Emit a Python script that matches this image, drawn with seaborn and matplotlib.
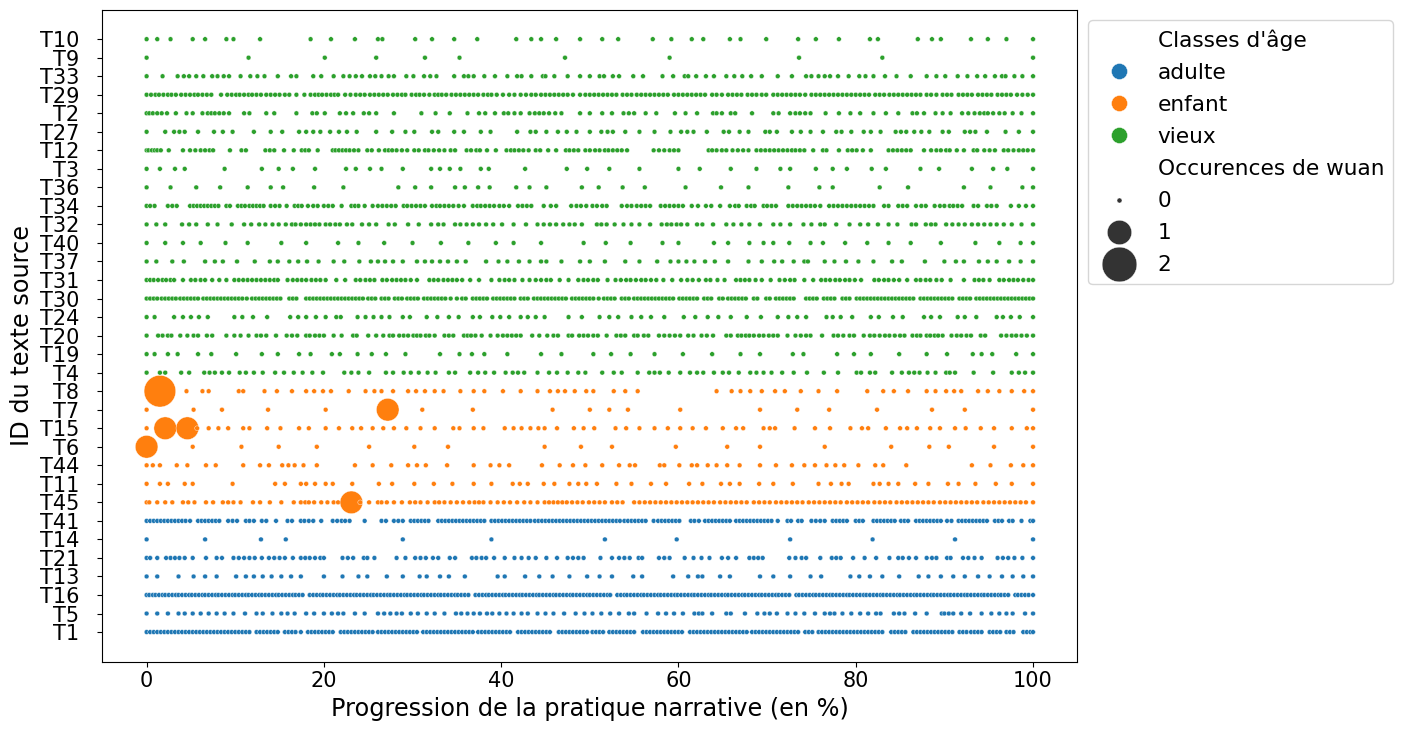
# imports
import pandas as pd
import seaborn as sns
import matplotlib.pyplot as plt
from matplotlib.lines import Line2D
from matplotlib.collections import PathCollection

# Positions (in % of the narrative) of each segment, read row by row.
# Rows listed from the bottom of the chart to the top.
t1 = [0, 0.4, 0.8, 1.2, 1.6, 2.0, 2.4, 2.8, 3.2, 3.6, 4.0, 4.4, 4.8, 5.2, 5.6, 6.0, 6.4, 6.8, 7.2, 7.6, 8.0, 8.4, 8.8, 9.2, 9.6, 10.0, 10.4, 10.8, 11.2, 11.6, 12.4, 12.8, 13.2, 13.6, 14.0, 14.4, 14.8, 15.6, 16.0, 16.4, 16.8, 17.4, 18.2, 18.6, 19.0, 19.4, 19.8, 20.2, 20.6, 21.0, 21.9, 22.3, 22.7, 23.1, 23.5, 23.9, 24.3, 24.7, 25.1, 25.5, 26.1, 26.5, 26.9, 27.3, 27.7, 28.1, 28.5, 28.9, 29.3, 29.7, 30.1, 30.5, 31.2, 31.6, 32.0, 32.4, 32.8, 33.2, 33.6, 34.0, 34.4, 34.8, 35.2, 35.6, 36.0, 36.4, 36.8, 37.4, 37.8, 38.2, 38.6, 39.0, 39.4, 39.8, 40.2, 40.6, 41.0, 41.9, 42.3, 42.7, 43.1, 43.5, 43.9, 44.3, 44.7, 45.1, 45.5, 46.5, 46.9, 47.3, 47.7, 48.1, 48.5, 48.9, 49.3, 49.7, 50.3, 50.7, 51.1, 51.5, 52.2, 52.6, 53.0, 53.4, 53.8, 54.2, 54.6, 55.0, 56.0, 56.4, 56.8, 57.2, 57.6, 58.0, 58.4, 58.8, 59.2, 59.6, 60.0, 60.4, 61.3, 61.7, 62.1, 62.5, 62.9, 63.3, 63.7, 64.1, 64.5, 64.9, 65.3, 65.7, 66.1, 66.5, 66.9, 67.3, 67.7, 68.3, 68.7, 69.1, 69.5, 69.9, 70.3, 70.7, 71.1, 71.5, 71.9, 72.3, 72.7, 73.1, 73.5, 74.3, 74.7, 75.1, 75.8, 76.2, 76.6, 77.0, 77.4, 77.8, 78.2, 78.6, 79.0, 79.4, 79.8, 80.2, 80.6, 81.0, 81.4, 81.8, 82.2, 82.6, 83.0, 84.0, 84.4, 84.8, 85.2, 85.6, 86.5, 86.9, 87.3, 87.7, 88.1, 88.5, 88.9, 89.3, 89.7, 90.1, 90.5, 90.9, 91.7, 92.1, 92.5, 93.0, 93.4, 93.8, 94.2, 95.1, 95.5, 95.9, 96.3, 97.0, 97.4, 97.8, 98.9, 99.3, 99.7, 100]
t5 = [0, 1.2, 2.4, 3.6, 4.3, 5.2, 6.1, 7.0, 7.9, 8.8, 9.8, 11.1, 12.4, 13.1, 14.2, 15.2, 15.9, 16.7, 18.0, 18.9, 20.0, 20.9, 21.6, 22.2, 23.5, 24.6, 26.1, 26.8, 27.5, 28.2, 28.8, 29.8, 30.6, 31.6, 32.5, 33.6, 34.9, 35.5, 36.2, 36.9, 37.6, 38.4, 39.0, 39.8, 40.6, 41.4, 42.3, 43.0, 44.1, 45.0, 45.9, 47.1, 48.4, 49.4, 50.3, 51.3, 52.3, 53.3, 54.4, 55.0, 56.4, 57.7, 58.6, 59.5, 60.5, 61.8, 62.3, 62.7, 63.8, 65.4, 65.9, 67.5, 68.9, 69.7, 70.3, 71.1, 72.3, 73.2, 74.2, 75.4, 76.5, 77.1, 77.6, 78.5, 79.5, 80.5, 81.4, 82.3, 82.8, 84.3, 84.9, 85.5, 86.7, 88.0, 89.7, 90.0, 90.5, 91.0, 91.9, 92.9, 94.2, 95.3, 96.2, 97.0, 97.7, 99.1, 100]
t16 = [0, 0.3, 0.7, 1.0, 1.4, 1.8, 2.1, 2.5, 2.9, 3.3, 3.6, 4.0, 4.4, 4.8, 5.1, 5.5, 5.9, 6.3, 6.6, 7.0, 7.4, 7.8, 8.1, 8.5, 8.9, 9.3, 9.7, 10.0, 10.4, 10.8, 11.2, 11.5, 11.9, 12.3, 12.7, 13.0, 13.4, 13.8, 14.2, 14.6, 14.9, 15.3, 15.7, 16.1, 16.5, 16.8, 17.2, 17.6, 18.4, 18.8, 19.2, 19.6, 19.9, 20.3, 20.7, 21.1, 21.5, 21.8, 22.2, 22.6, 23.0, 23.4, 23.7, 24.1, 24.5, 24.9, 25.3, 25.6, 26.0, 26.4, 26.8, 27.2, 27.5, 27.9, 28.3, 28.7, 29.1, 29.4, 29.8, 30.2, 30.6, 31.0, 31.3, 31.7, 32.1, 32.5, 32.9, 33.2, 33.6, 34.0, 34.4, 34.8, 35.1, 35.5, 35.9, 36.3, 37.1, 37.5, 37.9, 38.3, 38.6, 39.0, 39.4, 39.8, 40.2, 40.5, 40.9, 41.3, 41.7, 42.1, 42.4, 42.8, 43.2, 43.6, 44.0, 44.3, 44.7, 45.1, 45.5, 45.9, 46.2, 46.6, 47.0, 47.4, 47.8, 48.1, 48.5, 48.9, 49.3, 49.7, 50.0, 50.4, 50.8, 51.2, 51.6, 52.0, 52.3, 53.1, 53.5, 53.9, 54.2, 54.6, 55.0, 55.4, 55.8, 56.1, 56.5, 56.9, 57.3, 57.7, 58.0, 58.4, 58.8, 59.2, 59.6, 59.9, 60.3, 60.7, 61.1, 61.5, 61.8, 62.2, 62.6, 63.0, 63.4, 63.7, 64.1, 64.5, 64.9, 65.3, 65.6, 66.0, 66.4, 66.8, 67.2, 67.5, 67.9, 68.3, 68.7, 69.1, 69.4, 69.8, 70.2, 70.6, 71.0, 71.3, 71.7, 72.1, 72.5, 73.3, 73.6, 74.0, 74.4, 74.8, 75.2, 75.5, 75.9, 76.3, 76.7, 77.1, 77.4, 77.8, 78.2, 78.6, 79.0, 79.3, 79.7, 80.1, 80.5, 80.9, 81.2, 81.6, 82.0, 82.4, 82.8, 83.1, 83.5, 83.9, 84.3, 84.7, 85.0, 85.4, 85.8, 86.2, 86.6, 86.9, 87.3, 87.7, 88.1, 88.5, 88.8, 89.2, 89.6, 90.0, 90.4, 90.7, 91.1, 91.5, 91.9, 92.3, 92.6, 93.0, 93.4, 93.8, 94.2, 94.5, 94.9, 95.3, 95.7, 96.1, 96.4, 96.8, 97.2, 98.0, 98.3, 98.7, 99.1, 99.5, 100]
t13 = [0, 1.2, 3.6, 5.3, 6.6, 7.9, 10.1, 11.2, 12.1, 13.1, 14.1, 15.2, 16.3, 17.4, 20.0, 22.1, 23.9, 24.9, 27.1, 28.9, 30.8, 31.6, 33.1, 34.1, 35.9, 39.6, 40.4, 42.7, 44.3, 45.8, 47.7, 49.7, 51.1, 52.5, 54.9, 55.9, 59.4, 61.1, 62.2, 62.7, 64.7, 65.8, 69.2, 70.7, 72.6, 74.9, 76.1, 79.4, 80.4, 81.6, 83.0, 84.9, 87.1, 88.2, 89.6, 91.0, 92.3, 93.8, 95.1, 96.5, 97.7, 98.9, 100]
t21 = [0, 0.4, 1.2, 2.2, 2.7, 3.2, 3.7, 4.3, 5.2, 6.7, 7.9, 8.5, 9.8, 10.4, 11.0, 11.6, 12.2, 13.0, 13.8, 14.4, 15.0, 15.6, 16.5, 17.4, 17.9, 18.4, 19.0, 19.6, 20.0, 22.1, 22.7, 23.3, 24.5, 24.9, 25.7, 28.2, 29.2, 30.3, 30.9, 31.5, 32.3, 32.9, 34.2, 34.8, 36.7, 37.2, 37.8, 38.3, 39.2, 40.4, 41.5, 42.3, 43.1, 43.9, 45.1, 46.3, 47.5, 48.1, 48.7, 49.3, 51.2, 52.5, 53.3, 53.9, 54.5, 55.5, 55.9, 57.8, 58.4, 59.0, 60.7, 61.7, 62.6, 63.5, 64.9, 65.6, 66.5, 68.0, 68.5, 69.0, 69.5, 72.5, 73.2, 73.9, 74.4, 76.0, 77.3, 77.8, 78.3, 79.7, 81.0, 82.3, 83.8, 84.8, 85.3, 86.0, 86.8, 88.0, 88.6, 89.1, 90.3, 90.7, 92.1, 92.7, 93.4, 94.2, 96.0, 96.6, 97.2, 97.9, 98.8, 100]
t14 = [0, 6.6, 12.9, 15.7, 28.9, 38.9, 51.7, 59.8, 72.6, 81.9, 91.2, 100]
t41 = [0, 0.4, 0.8, 1.2, 1.6, 2.0, 2.4, 2.8, 3.2, 3.6, 4.0, 4.4, 4.9, 5.8, 6.2, 6.6, 7.0, 7.4, 7.8, 8.2, 9.2, 9.7, 10.2, 11.2, 11.6, 12.1, 13.0, 13.5, 14.6, 15.9, 16.4, 17.4, 17.8, 18.3, 18.8, 19.7, 21.0, 21.5, 22.0, 22.4, 22.9, 24.6, 26.5, 27.0, 27.9, 28.4, 28.9, 29.8, 30.2, 30.6, 31.0, 31.4, 31.8, 32.9, 33.3, 33.7, 34.1, 34.5, 34.9, 35.3, 35.7, 36.1, 36.5, 36.9, 37.3, 37.7, 38.1, 38.9, 39.3, 39.7, 40.1, 40.5, 40.9, 41.3, 41.7, 42.1, 42.5, 42.9, 43.3, 43.8, 44.2, 44.6, 45.0, 45.4, 45.8, 46.2, 46.6, 47.0, 47.4, 47.8, 48.2, 48.6, 49.0, 49.4, 49.8, 50.2, 50.6, 51.0, 51.4, 51.8, 52.2, 52.6, 53.0, 53.4, 53.9, 54.3, 54.7, 55.1, 55.5, 55.9, 56.3, 57.2, 57.7, 58.1, 58.5, 58.9, 59.3, 59.7, 60.1, 61.4, 61.8, 62.3, 63.0, 63.4, 63.8, 64.2, 64.6, 65.0, 65.4, 65.8, 66.5, 66.9, 67.3, 67.7, 68.1, 68.5, 68.9, 69.3, 69.7, 70.1, 70.5, 71.2, 72.3, 72.7, 73.5, 73.9, 75.0, 75.5, 76.0, 76.5, 77.4, 77.8, 78.2, 78.6, 79.0, 80.0, 80.4, 80.8, 82.0, 82.4, 82.8, 83.2, 83.6, 84.0, 84.4, 85.1, 85.5, 85.9, 86.8, 87.2, 87.6, 88.0, 88.4, 88.8, 89.2, 89.6, 90.3, 90.8, 91.6, 92.0, 92.4, 92.8, 93.2, 93.6, 94.0, 94.4, 94.8, 95.7, 96.1, 96.5, 97.3, 97.7, 98.7, 99.7, 100]
t45 = [0, 0.3, 1.2, 2.1, 2.9, 4.1, 4.7, 5.4, 6.7, 7.5, 8.6, 9.2, 9.8, 10.6, 12.0, 12.8, 13.9, 15.2, 16.6, 17.4, 17.9, 18.3, 18.9, 19.7, 20.4, 21.1, 21.6, 23.1, 24.1, 25.1, 26.1, 26.5, 27.1, 27.9, 28.8, 29.7, 30.3, 30.9, 31.7, 32.5, 33.0, 33.6, 34.3, 35.0, 35.7, 36.4, 37.0, 37.5, 38.0, 38.8, 39.6, 40.3, 41.0, 41.8, 42.6, 43.3, 44.1, 44.9, 45.4, 45.9, 46.4, 46.9, 47.4, 48.0, 48.6, 49.2, 49.9, 50.5, 51.1, 51.7, 52.5, 53.1, 53.7, 55.0, 55.6, 56.2, 56.8, 57.4, 58.0, 58.6, 59.2, 59.8, 60.4, 61.0, 61.6, 62.2, 62.8, 63.4, 64.0, 64.7, 65.3, 65.9, 66.5, 67.1, 67.7, 68.5, 69.1, 69.7, 70.3, 71.0, 71.6, 72.2, 72.8, 73.4, 74.0, 74.7, 75.3, 75.9, 76.5, 77.1, 77.7, 78.3, 79.0, 79.6, 80.2, 80.8, 81.4, 82.1, 82.7, 83.3, 83.9, 84.6, 85.2, 85.8, 86.4, 87.0, 87.6, 88.2, 88.8, 89.5, 90.1, 90.7, 91.3, 91.9, 92.5, 93.1, 93.7, 94.4, 95.0, 95.6, 96.2, 96.8, 97.4, 98.0, 98.6, 99.2, 100]
t11 = [0, 1.5, 2.4, 4.3, 5.2, 9.7, 14.5, 15.6, 17.4, 18.0, 19.0, 20.2, 21.0, 23.2, 26.2, 27.7, 30.2, 32.4, 34.5, 36.9, 38.9, 41.3, 42.1, 43.0, 44.8, 46.0, 47.7, 48.7, 49.6, 50.8, 53.0, 54.7, 56.9, 58.6, 61.2, 62.7, 64.8, 65.8, 66.9, 69.1, 70.7, 72.9, 75.8, 77.2, 78.4, 79.2, 82.0, 82.7, 83.7, 84.8, 86.7, 88.2, 90.4, 91.6, 93.5, 95.8, 97.6, 100]
t44 = [0, 0.7, 1.5, 3.4, 4.6, 6.7, 7.8, 10.9, 12.8, 13.8, 15.3, 16.0, 16.7, 17.7, 19.2, 23.5, 25.5, 27.6, 29.5, 30.5, 31.5, 33.9, 36.9, 38.8, 39.8, 40.9, 44.6, 46.6, 48.1, 49.5, 51.4, 53.3, 54.5, 55.1, 57.9, 58.4, 60.1, 61.5, 62.1, 63.3, 64.3, 65.5, 66.9, 69.2, 71.0, 72.8, 74.2, 75.4, 76.7, 77.7, 78.7, 80.3, 82.2, 83.1, 85.7, 93.1, 95.2, 97.5, 98.9, 100]
t6 = [0, 5.2, 10.7, 14.9, 19.2, 25.1, 30.2, 34.0, 44.9, 49.0, 52.5, 59.7, 65.5, 69.2, 76.5, 84.0, 88.3, 90.5, 95.6, 100]
t15 = [0, 2.1, 4.6, 5.7, 7.0, 8.1, 9.2, 10.9, 11.6, 13.6, 15.1, 17.2, 18.3, 20.2, 21.7, 23.2, 24.2, 25.5, 26.7, 27.9, 29.3, 30.9, 32.5, 34.6, 35.3, 36.9, 38.0, 40.4, 41.4, 42.3, 43.3, 44.2, 44.9, 46.3, 48.2, 49.3, 50.5, 52.9, 54.1, 55.6, 57.3, 58.8, 60.2, 61.6, 63.1, 65.0, 66.5, 67.3, 69.6, 70.3, 70.9, 73.1, 75.4, 77.1, 79.4, 80.7, 81.4, 83.4, 85.0, 85.8, 86.9, 88.4, 89.5, 91.2, 92.4, 94.1, 95.6, 97.6, 99.3, 100]
t7 = [0, 5.3, 8.5, 13.7, 20.2, 27.2, 31.1, 36.8, 45.8, 50.0, 52.2, 54.3, 60.2, 69.2, 73.4, 77.0, 82.4, 88.6, 92.3, 100]
t8 = [1.5, 4.5, 6.3, 7.0, 10.4, 10.9, 13.3, 14.7, 16.4, 18.0, 18.9, 19.9, 20.8, 22.8, 24.7, 25.7, 26.5, 27.8, 29.5, 30.4, 31.4, 32.5, 33.5, 35.4, 36.9, 38.1, 40.2, 42.2, 44.1, 45.5, 46.4, 47.2, 48.3, 49.6, 50.4, 52.7, 54.0, 55.4, 64.3, 66.0, 67.0, 68.1, 69.4, 70.9, 72.0, 73.8, 75.8, 77.9, 81.3, 83.1, 84.3, 85.9, 88.0, 89.0, 90.2, 91.1, 91.9, 93.8, 94.9, 96.2, 97.6, 99.0, 100]
t4 = [0, 1.5, 2.1, 3.9, 4.8, 6.5, 7.1, 7.7, 8.5, 9.3, 10.5, 11.2, 12.1, 13.1, 14.5, 15.5, 16.6, 17.6, 18.7, 19.9, 22.3, 23.1, 23.9, 25.1, 27.0, 27.8, 29.0, 29.8, 30.7, 31.7, 32.6, 34.1, 34.8, 36.5, 37.4, 38.2, 39.2, 40.5, 41.3, 41.9, 42.6, 44.1, 45.4, 46.3, 47.5, 48.7, 49.5, 51.4, 52.7, 53.6, 55.4, 56.7, 57.3, 57.9, 58.9, 60.2, 61.3, 62.1, 62.8, 64.0, 65.0, 65.7, 66.8, 68.1, 68.8, 69.6, 70.5, 71.7, 73.0, 74.5, 76.4, 78.0, 80.1, 80.6, 81.6, 82.2, 84.1, 85.2, 86.0, 86.6, 87.2, 88.1, 89.0, 90.2, 90.6, 91.2, 93.3, 95.5, 97.6, 98.4, 99.1, 100]
t19 = [0, 0.9, 2.4, 3.5, 5.8, 7.3, 10.1, 13.0, 14.8, 17.2, 18.5, 20.9, 21.8, 23.8, 25.4, 27.0, 29.2, 33.1, 35.3, 36.7, 38.1, 40.7, 44.5, 46.8, 50.4, 52.4, 54.6, 57.3, 60.5, 63.8, 67.0, 69.2, 72.9, 74.1, 77.9, 79.8, 81.7, 84.9, 88.0, 90.3, 93.2, 94.2, 95.4, 98.1, 100]
t20 = [0, 1.3, 1.8, 2.4, 2.8, 3.8, 4.6, 5.3, 5.8, 6.8, 7.4, 9.0, 9.9, 10.6, 11.5, 12.4, 12.9, 13.5, 14.6, 15.8, 16.4, 17.0, 18.0, 18.4, 19.0, 19.5, 20.0, 21.1, 22.0, 23.3, 23.7, 25.0, 25.9, 26.7, 27.4, 27.8, 28.5, 29.0, 29.5, 30.1, 30.5, 30.9, 31.5, 31.9, 32.5, 33.6, 34.1, 34.6, 35.8, 36.2, 36.6, 37.1, 37.8, 38.8, 39.6, 40.2, 40.7, 41.2, 41.7, 42.2, 43.5, 44.3, 45.2, 45.9, 46.4, 47.6, 48.0, 48.8, 49.3, 49.8, 50.4, 50.9, 51.9, 53.0, 53.5, 54.0, 55.0, 55.4, 56.1, 56.6, 57.8, 58.4, 59.0, 59.6, 60.2, 61.1, 61.7, 62.6, 63.2, 63.9, 65.4, 65.9, 66.7, 67.1, 67.6, 68.0, 68.5, 69.1, 69.6, 70.2, 70.7, 71.2, 72.3, 73.2, 73.8, 74.4, 74.9, 76.2, 77.5, 78.0, 78.6, 79.3, 79.8, 80.9, 81.6, 82.1, 82.7, 83.3, 83.8, 84.4, 85.0, 85.5, 86.4, 86.9, 87.3, 88.0, 88.4, 88.9, 89.3, 89.8, 90.8, 91.4, 91.9, 92.5, 93.0, 94.1, 94.6, 96.4, 97.0, 97.6, 98.1, 98.7, 99.3, 100]
t24 = [0, 0.9, 3.1, 4.1, 5.0, 5.9, 6.9, 9.9, 10.8, 12.0, 13.6, 16.2, 17.1, 18.0, 19.1, 20.2, 21.4, 21.9, 23.8, 24.7, 25.6, 26.5, 27.4, 28.9, 29.7, 31.6, 32.8, 34.1, 35.2, 36.8, 37.6, 39.0, 39.9, 40.9, 42.2, 43.0, 43.9, 44.9, 47.6, 49.1, 51.1, 52.2, 53.2, 54.7, 55.8, 56.9, 58.4, 60.6, 61.9, 63.3, 64.5, 65.9, 67.7, 69.3, 71.2, 72.4, 73.4, 74.4, 76.7, 77.4, 78.3, 79.6, 81.7, 82.6, 84.2, 85.3, 87.7, 88.5, 89.5, 91.5, 92.3, 93.6, 95.9, 96.6, 97.5, 98.5, 100]
t30 = [0, 0.4, 0.8, 1.2, 1.7, 2.1, 2.5, 2.9, 3.3, 3.8, 4.2, 4.6, 5.0, 5.4, 5.8, 6.4, 6.8, 7.2, 7.6, 8.0, 8.4, 8.8, 9.2, 9.6, 10.0, 10.4, 10.8, 11.3, 11.9, 12.3, 12.7, 13.1, 13.5, 13.9, 14.3, 14.7, 15.1, 16.1, 16.5, 16.9, 18.0, 18.4, 18.8, 19.2, 19.6, 20.0, 20.4, 20.8, 21.2, 21.6, 22.0, 22.4, 22.8, 23.2, 23.6, 24.0, 24.4, 25.0, 25.4, 25.8, 26.5, 26.9, 27.3, 28.0, 28.4, 28.8, 29.4, 29.8, 30.2, 30.6, 31.3, 31.7, 32.1, 32.5, 32.9, 33.3, 33.7, 34.3, 35.0, 35.6, 36.0, 36.8, 37.2, 37.6, 38.0, 38.4, 39.1, 39.5, 39.9, 40.3, 40.7, 41.1, 41.5, 42.2, 42.6, 43.0, 43.7, 44.1, 44.5, 44.9, 45.3, 45.7, 46.1, 46.5, 46.9, 47.3, 48.0, 48.4, 48.8, 49.2, 49.6, 50.0, 50.4, 51.0, 51.6, 52.0, 52.4, 52.8, 53.6, 54.0, 54.4, 55.0, 55.4, 55.8, 56.2, 56.6, 57.0, 57.4, 57.8, 58.2, 58.6, 59.0, 59.4, 60.1, 60.5, 60.9, 61.3, 61.7, 62.1, 62.9, 63.3, 63.7, 64.6, 65.0, 65.6, 66.0, 66.4, 66.8, 67.2, 67.6, 68.5, 68.9, 69.9, 70.3, 71.0, 71.4, 71.8, 72.2, 72.6, 73.0, 74.4, 74.8, 75.2, 75.6, 76.4, 76.8, 77.2, 77.6, 78.5, 78.9, 79.3, 80.1, 80.5, 80.9, 81.3, 81.7, 82.1, 82.5, 82.9, 83.3, 83.7, 84.1, 84.5, 84.9, 85.3, 85.7, 86.1, 86.5, 87.3, 87.7, 88.1, 88.5, 88.9, 89.3, 89.7, 90.1, 90.5, 90.9, 91.7, 92.1, 92.5, 92.9, 93.6, 94.0, 94.4, 94.8, 95.2, 95.6, 96.0, 96.4, 96.8, 97.2, 97.6, 98.0, 98.4, 98.8, 99.2, 99.6, 100]
t31 = [0, 0.4, 0.8, 1.3, 1.8, 2.2, 2.7, 3.1, 4.1, 5.0, 5.5, 6.1, 6.6, 7.4, 8.2, 9.0, 9.9, 10.4, 10.9, 11.4, 11.9, 12.4, 12.9, 13.4, 13.9, 14.4, 14.8, 15.9, 16.5, 17.0, 17.5, 18.0, 18.6, 19.1, 19.6, 20.2, 21.4, 22.4, 23.6, 24.1, 24.7, 25.2, 25.7, 26.6, 27.1, 27.7, 28.2, 28.7, 29.2, 29.8, 30.5, 31.9, 32.4, 32.9, 33.5, 34.0, 34.5, 35.0, 35.6, 36.5, 37.5, 38.9, 39.8, 40.4, 40.9, 41.5, 42.4, 43.2, 43.9, 44.5, 45.1, 45.6, 46.6, 47.6, 48.7, 49.3, 49.8, 50.4, 50.9, 52.0, 52.9, 53.5, 54.1, 54.6, 55.2, 55.8, 56.3, 56.9, 57.5, 58.3, 59.3, 60.3, 61.0, 61.6, 62.3, 63.1, 63.6, 64.4, 65.2, 66.5, 67.0, 67.5, 68.0, 68.7, 69.4, 70.4, 71.4, 72.0, 72.6, 73.1, 74.2, 75.2, 76.1, 76.6, 77.1, 77.7, 78.2, 78.8, 79.3, 79.9, 80.6, 82.1, 82.6, 83.2, 83.7, 84.3, 84.9, 85.8, 86.8, 87.3, 87.9, 88.4, 89.1, 89.7, 90.7, 92.2, 93.4, 93.9, 94.4, 95.1, 96.2, 96.7, 97.3, 97.8, 98.3, 98.9, 99.5, 100]
t37 = [0, 1.1, 2.9, 4.2, 6.6, 7.7, 8.6, 10.2, 12.2, 13.9, 14.8, 16.1, 17.1, 18.1, 19.4, 21.1, 22.3, 24.0, 25.3, 26.1, 26.9, 27.8, 28.9, 30.5, 31.4, 32.2, 33.1, 34.0, 35.0, 36.0, 38.3, 39.7, 40.7, 42.0, 43.2, 44.5, 45.1, 46.8, 48.9, 50.0, 51.7, 54.0, 55.6, 57.6, 59.1, 60.0, 60.9, 61.8, 63.0, 64.1, 65.6, 67.9, 69.4, 70.8, 71.7, 73.0, 74.2, 74.6, 76.5, 77.6, 78.9, 80.3, 82.0, 84.1, 85.2, 87.8, 90.0, 91.3, 92.2, 93.9, 94.9, 95.9, 97.3, 98.6, 100]
t40 = [0, 2.1, 4.1, 6.1, 8.9, 11.4, 15.2, 18.0, 21.6, 23.9, 26.8, 30.0, 33.2, 36.3, 39.4, 41.4, 44.5, 49.3, 51.8, 54.6, 58.2, 60.0, 64.0, 65.6, 68.0, 69.6, 70.7, 72.5, 74.9, 76.3, 78.8, 81.3, 83.7, 86.2, 89.6, 93.5, 96.2, 98.6, 100]
t32 = [0, 1.1, 2.1, 4.0, 4.8, 5.6, 6.9, 8.0, 9.6, 11.0, 11.8, 12.7, 13.4, 14.2, 14.9, 15.7, 16.4, 16.8, 17.4, 18.0, 18.5, 19.0, 19.5, 20.2, 20.7, 21.3, 21.8, 22.6, 23.2, 24.3, 25.1, 25.9, 27.3, 28.0, 29.5, 30.7, 32.1, 32.9, 33.5, 34.8, 35.4, 36.1, 36.8, 37.5, 38.3, 39.1, 40.1, 41.4, 42.8, 44.1, 44.8, 45.5, 46.2, 47.0, 47.7, 48.3, 49.1, 50.8, 51.3, 51.9, 52.8, 53.8, 54.7, 55.6, 56.8, 58.1, 58.7, 59.2, 59.8, 60.3, 61.0, 62.1, 62.7, 63.9, 65.4, 66.2, 67.1, 68.0, 69.2, 70.7, 71.5, 72.6, 74.1, 75.0, 76.0, 76.5, 77.8, 79.3, 80.5, 81.4, 82.5, 83.7, 84.7, 86.3, 86.8, 87.9, 88.5, 89.0, 90.2, 90.9, 91.6, 92.3, 93.1, 93.8, 94.5, 95.2, 95.9, 96.7, 97.6, 98.7, 100]
t34 = [0, 0.4, 0.9, 2.4, 2.9, 3.4, 4.9, 5.3, 5.7, 6.1, 6.5, 6.9, 7.3, 7.7, 8.1, 9.0, 9.4, 10.3, 10.7, 11.1, 11.6, 12.0, 12.4, 12.8, 13.2, 14.0, 14.5, 15.0, 15.8, 16.7, 17.1, 17.5, 18.2, 18.8, 19.3, 20.0, 20.5, 21.0, 22.0, 23.1, 23.5, 23.9, 24.6, 25.5, 26.1, 26.6, 27.1, 27.6, 28.1, 29.0, 29.4, 29.9, 30.4, 30.9, 31.4, 32.2, 32.7, 33.1, 33.6, 34.1, 34.6, 35.2, 35.8, 36.8, 37.3, 37.7, 38.2, 38.7, 39.2, 39.8, 40.3, 40.9, 41.9, 42.4, 42.9, 43.4, 44.8, 45.6, 46.2, 47.9, 48.5, 49.0, 49.6, 50.3, 50.8, 51.4, 51.9, 53.6, 54.2, 54.7, 55.3, 55.8, 56.3, 56.8, 58.0, 58.5, 59.0, 59.5, 60.0, 60.5, 61.5, 62.2, 63.1, 63.7, 64.7, 65.8, 66.4, 66.8, 67.7, 68.2, 68.6, 69.6, 70.0, 70.5, 71.0, 72.4, 72.9, 73.4, 73.9, 74.4, 74.9, 75.4, 76.0, 77.0, 77.5, 78.0, 78.5, 79.0, 79.5, 80.0, 80.5, 81.0, 81.5, 82.0, 83.2, 83.7, 84.8, 85.3, 85.8, 86.8, 87.4, 87.9, 88.9, 89.5, 90.0, 90.6, 91.0, 91.5, 92.0, 93.3, 93.8, 94.8, 95.3, 95.9, 97.5, 98.4, 99.2, 100]
t36 = [0, 2.7, 5.6, 8.3, 11.4, 14.0, 15.4, 18.9, 22.2, 28.4, 30.3, 32.1, 34.8, 35.9, 37.4, 38.7, 41.7, 43.2, 45.1, 49.1, 51.0, 53.7, 56.2, 60.8, 64.8, 67.9, 72.4, 75.9, 77.4, 82.7, 85.9, 92.2, 95.2, 98.8, 100]
t3 = [0, 1.5, 3.2, 4.3, 8.8, 13.0, 14.9, 16.5, 19.0, 22.5, 23.6, 25.2, 26.5, 28.9, 32.1, 33.1, 34.2, 35.4, 37.7, 38.6, 42.7, 47.4, 49.7, 52.2, 55.6, 60.0, 62.4, 65.9, 68.8, 71.5, 72.6, 75.5, 77.4, 79.0, 81.8, 83.4, 87.3, 89.4, 93.1, 95.5, 97.1, 100]
t12 = [0, 0.2, 0.6, 0.9, 1.2, 1.6, 2.5, 4.1, 4.9, 5.5, 6.1, 6.6, 7.1, 7.5, 9.4, 10.7, 11.2, 13.4, 13.9, 14.4, 15.5, 16.6, 17.5, 17.9, 18.3, 19.3, 21.0, 21.3, 21.7, 22.1, 22.5, 22.9, 23.4, 23.9, 24.9, 25.4, 26.2, 26.9, 27.3, 27.7, 28.2, 28.8, 29.4, 30.2, 30.7, 31.4, 31.8, 32.4, 33.0, 33.6, 34.3, 34.8, 36.1, 36.6, 37.2, 37.6, 38.4, 39.4, 40.6, 41.1, 41.5, 42.0, 42.5, 43.1, 43.9, 44.4, 45.3, 46.2, 47.3, 47.7, 48.2, 48.7, 49.5, 50.0, 50.6, 51.1, 51.7, 52.1, 52.6, 53.1, 53.6, 54.2, 57.2, 57.8, 58.4, 59.0, 59.5, 60.0, 63.4, 63.8, 64.3, 64.9, 65.4, 66.1, 66.7, 67.3, 67.9, 68.8, 69.3, 69.8, 70.3, 70.8, 71.3, 71.8, 72.3, 72.8, 73.2, 73.7, 74.2, 75.2, 76.3, 76.7, 78.1, 79.1, 79.6, 80.1, 80.8, 81.7, 83.7, 84.2, 84.7, 85.2, 85.7, 86.2, 87.7, 88.5, 89.1, 89.6, 90.2, 90.6, 91.4, 92.2, 93.3, 93.7, 94.5, 95.1, 95.7, 96.7, 97.2, 97.8, 98.4, 98.9, 99.4, 100]
t27 = [0, 2.1, 3.1, 3.7, 4.3, 5.8, 7.6, 8.6, 9.7, 12.1, 14.0, 15.3, 17.2, 18.0, 18.8, 19.6, 20.7, 21.7, 22.6, 23.7, 25.9, 27.7, 29.2, 30.2, 32.2, 32.9, 34.7, 35.8, 37.7, 38.8, 41.8, 43.3, 43.9, 45.1, 46.4, 47.4, 48.5, 50.0, 51.3, 52.0, 52.6, 54.0, 55.6, 57.3, 59.1, 60.3, 61.0, 61.7, 63.2, 65.1, 65.7, 66.9, 67.9, 69.8, 70.3, 71.1, 72.8, 73.8, 74.9, 76.3, 77.8, 78.4, 79.5, 80.9, 81.7, 82.8, 84.5, 85.1, 85.7, 86.6, 87.4, 88.3, 89.8, 90.5, 92.3, 92.9, 93.5, 94.8, 96.9, 98.4, 100]
t2 = [0, 0.3, 0.7, 1.2, 1.7, 2.3, 3.3, 4.5, 5.2, 6.3, 6.9, 7.3, 7.7, 8.2, 8.7, 9.3, 11.0, 11.6, 13.5, 14.4, 16.9, 18.7, 19.2, 20.1, 21.8, 22.5, 23.3, 24.5, 25.1, 25.9, 27.9, 31.0, 32.6, 34.2, 36.2, 37.5, 38.2, 39.3, 40.3, 40.8, 41.5, 42.2, 43.2, 43.8, 44.3, 44.8, 45.4, 46.1, 46.8, 48.9, 50.0, 51.4, 52.5, 53.8, 54.4, 55.0, 56.3, 57.5, 59.6, 60.8, 62.1, 63.9, 64.3, 64.9, 65.9, 66.4, 68.3, 70.7, 71.3, 72.6, 73.2, 73.7, 74.3, 74.9, 76.6, 78.1, 79.4, 80.5, 82.0, 83.4, 84.8, 86.4, 86.9, 87.7, 89.0, 89.8, 90.7, 92.0, 92.7, 93.4, 94.0, 94.5, 94.9, 95.5, 96.2, 96.8, 97.7, 98.7, 100]
t29 = [0, 0.5, 1.0, 1.4, 1.9, 2.4, 2.8, 3.3, 3.9, 4.4, 4.9, 5.4, 5.8, 6.3, 6.8, 7.3, 8.4, 9.1, 9.6, 10.1, 10.5, 11.0, 11.5, 11.9, 12.4, 12.9, 13.5, 14.0, 14.5, 15.0, 15.6, 16.1, 16.9, 17.8, 18.5, 19.0, 19.4, 19.8, 20.3, 20.8, 21.2, 21.6, 22.4, 23.0, 23.6, 24.1, 24.6, 25.2, 25.7, 26.2, 26.7, 27.2, 27.8, 28.3, 28.8, 29.2, 29.9, 30.4, 30.8, 31.3, 31.9, 32.5, 32.9, 33.3, 33.8, 34.4, 34.9, 35.4, 35.9, 36.4, 36.9, 37.4, 38.0, 38.5, 38.9, 39.5, 40.2, 40.9, 41.5, 42.2, 42.8, 43.4, 43.9, 44.5, 45.0, 45.5, 46.0, 46.5, 47.0, 47.5, 48.1, 48.9, 49.5, 50.0, 50.5, 51.0, 51.5, 52.0, 52.5, 53.0, 53.7, 54.2, 54.7, 55.3, 55.8, 56.3, 56.8, 57.3, 57.8, 58.3, 58.8, 59.5, 60.0, 60.5, 61.0, 61.5, 62.0, 62.5, 63.0, 63.8, 64.3, 64.9, 65.6, 66.1, 66.6, 67.1, 67.8, 68.3, 68.8, 69.4, 69.9, 70.7, 71.2, 71.7, 72.2, 72.7, 73.2, 73.7, 74.3, 75.0, 75.5, 76.0, 76.5, 77.0, 77.5, 78.0, 78.5, 79.0, 79.5, 80.0, 80.5, 81.0, 81.5, 82.2, 82.7, 83.2, 83.8, 84.3, 84.8, 85.3, 85.8, 86.3, 86.8, 87.3, 88.0, 88.5, 89.1, 89.8, 90.3, 90.8, 91.6, 92.1, 92.6, 93.1, 93.8, 94.3, 94.8, 95.3, 96.0, 96.5, 97.0, 97.5, 98.2, 98.8, 99.4, 100]
t33 = [0, 1.8, 3.5, 4.2, 4.8, 5.6, 6.4, 7.4, 8.0, 8.7, 9.3, 10.6, 11.7, 12.5, 13.3, 14.8, 16.3, 16.9, 18.8, 19.7, 21.1, 22.2, 22.9, 23.6, 24.3, 25.2, 25.8, 26.5, 27.3, 27.9, 29.3, 30.1, 31.3, 32.0, 32.7, 34.7, 35.8, 36.3, 36.9, 38.1, 39.3, 40.7, 41.8, 42.3, 43.4, 44.7, 45.0, 46.0, 47.5, 48.9, 50.0, 51.1, 51.6, 52.6, 53.3, 54.9, 56.0, 58.2, 59.4, 60.7, 61.1, 62.0, 63.1, 64.0, 65.4, 66.3, 67.2, 68.2, 69.4, 71.2, 72.8, 74.4, 75.0, 75.8, 76.5, 77.1, 78.0, 79.2, 80.4, 81.1, 82.0, 83.3, 84.6, 86.2, 88.0, 89.1, 90.1, 91.5, 92.6, 93.7, 94.6, 95.7, 96.5, 96.9, 97.9, 98.8, 100]
t9 = [0, 11.5, 20.1, 25.9, 31.4, 35.3, 47.2, 59.0, 73.6, 83.0, 100]
t10 = [0, 1.2, 2.7, 5.2, 6.6, 9.0, 9.8, 12.8, 18.5, 20.8, 23.5, 26.1, 26.6, 30.3, 32.2, 34.7, 37.3, 41.7, 43.4, 44.5, 46.2, 48.9, 51.4, 53.2, 57.1, 59.2, 61.5, 62.8, 65.8, 67.0, 69.9, 73.5, 75.5, 78.1, 81.6, 82.5, 87.0, 88.6, 89.6, 93.0, 94.9, 97.0, 100]

texts = ["T1", "T5", "T16", "T13", "T21", "T14", "T41",
         "T45", "T11", "T44", "T6", "T15", "T7", "T8",
         "T4", "T19", "T20", "T24", "T30", "T31", "T37", "T40", "T32", "T34",
         "T36", "T3", "T12", "T27", "T2", "T29", "T33", "T9", "T10"]
classes = ["adulte", "adulte", "adulte", "adulte", "adulte", "adulte", "adulte",
           "enfant", "enfant", "enfant", "enfant", "enfant", "enfant", "enfant",
           "vieux", "vieux", "vieux", "vieux", "vieux", "vieux", "vieux", "vieux",
           "vieux", "vieux", "vieux", "vieux", "vieux", "vieux", "vieux", "vieux",
           "vieux", "vieux", "vieux"]
positions = [t1, t5, t16, t13, t21, t14, t41,
             t45, t11, t44, t6, t15, t7, t8,
             t4, t19, t20, t24, t30, t31, t37, t40, t32, t34,
             t36, t3, t12, t27, t2, t29, t33, t9, t10]

# segments where "wuan" occurs
hit_texts = ["T45", "T6", "T15", "T15", "T7", "T8"]
hit_x = [23.1, 0, 2.1, 4.6, 27.2, 1.5]
hit_n = [1, 1, 1, 1, 1, 2]

# build the long table
records = []
for name, cls, xs in zip(texts, classes, positions):
    for x in xs:
        n = 0
        for ht, hx, hn in zip(hit_texts, hit_x, hit_n):
            if ht == name and hx == x:
                n = hn
        records.append({"texte": name, "progression": x,
                        "Classes d'âge": cls, "Occurences de wuan": n})
df = pd.DataFrame(records)

fig = plt.figure(figsize=(14.05, 7.38), dpi=100)
ax = fig.add_axes([0.0728, 0.1034, 0.694, 0.8837])
sns.scatterplot(data=df,
                x="progression",
                y="texte",
                hue="Classes d'âge",
                size="Occurences de wuan",
                sizes=(12, 520),
                legend="full",
                ax=ax)
# first text at the bottom
ax.invert_yaxis()
ax.set_xlabel("Progression de la pratique narrative (en %)", fontsize=17.3)
ax.set_ylabel("ID du texte source", fontsize=17.3)
ax.tick_params(labelsize=15)
ax.tick_params(axis="y", pad=13)

# legend: bigger markers, placed outside on the right
handles, labels = ax.get_legend_handles_labels()
marker_pt = {"adulte": 11.5, "enfant": 11.5, "vieux": 11.5,
             "0": 3.6, "1": 17.5, "2": 25}
for h, lab in zip(handles, labels):
    if lab in marker_pt:
        if isinstance(h, Line2D):
            h.set_markersize(marker_pt[lab])
        elif isinstance(h, PathCollection):
            h.set_sizes([marker_pt[lab] ** 2])
ax.get_legend().remove()
ax.legend(handles, labels, loc="upper left", bbox_to_anchor=(1, 1),
          fontsize=15.6, labelspacing=0.56)

fig.savefig("out.png", dpi=100)
